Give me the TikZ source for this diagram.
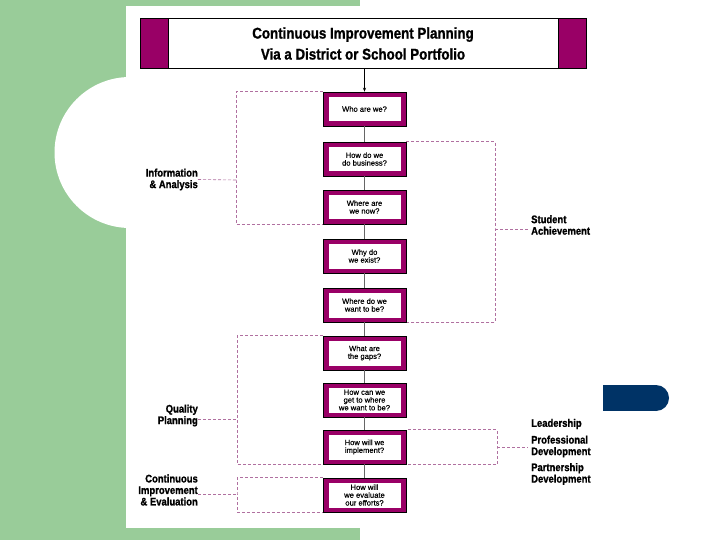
\documentclass[tikz,border=0pt]{standalone}
\usepackage{fontspec}
\setmainfont{Liberation Sans}
\newfontfamily\condfont[FakeStretch=0.86,FakeBold=1.2]{Liberation Sans Bold}
\newfontfamily\qfont[FakeBold=0.4]{Liberation Sans}
\usetikzlibrary{arrows.meta}
\definecolor{bggreen}{HTML}{99CC99}
\definecolor{mag}{HTML}{990066}
\definecolor{dashc}{HTML}{B070A0}
\definecolor{navy}{HTML}{003366}
\begin{document}
\begin{tikzpicture}[x=1pt,y=-1pt,
  qbox/.style={draw=black, line width=0.5pt, fill=mag, minimum width=83pt, minimum height=34pt,
    inner sep=0pt, align=center, font=\qfont\fontsize{7.6}{7.8}\selectfont,
    path picture={\fill[white] ([shift={(5.5pt,-5pt)}]path picture bounding box.north west)
      rectangle ([shift={(-5.5pt,4.5pt)}]path picture bounding box.south east);}},
  lbl/.style={font=\condfont\fontsize{11}{11.5}\selectfont, inner sep=0pt},
  dsh/.style={draw=dashc, line width=0.6pt, dash pattern=on 3pt off 2pt},
  link/.style={draw=black!60, line width=0.8pt}]

\useasboundingbox (0,0) rectangle (720,540);
% background
\fill[bggreen] (0,0) rectangle (360,540);
\fill[white] (126,6) rectangle (720,528);
\fill[white] (360,0) rectangle (720,540);
\fill[white] (130,152.5) circle (75.5pt);

% title
\node[draw=black, line width=0.8pt, fill=white, minimum width=446pt, minimum height=50pt,
  inner sep=0pt, align=center, font=\condfont\fontsize{15.5}{21}\selectfont,
  path picture={
    \fill[mag] (path picture bounding box.north west) rectangle ([xshift=28pt]path picture bounding box.south west);
    \fill[mag] ([xshift=-28pt]path picture bounding box.north east) rectangle (path picture bounding box.south east);
    \draw[black, line width=0.8pt] ([xshift=28pt]path picture bounding box.north west) -- ([xshift=28pt]path picture bounding box.south west);
    \draw[black, line width=0.8pt] ([xshift=-28pt]path picture bounding box.north east) -- ([xshift=-28pt]path picture bounding box.south east);
  }] (title) at (363,43.5) {Continuous Improvement Planning\\Via a District or School Portfolio};

% coordinates for brackets
\coordinate (iaX) at (236,180);
\coordinate (saX) at (495,229);
\coordinate (qpX) at (237,419);
\coordinate (lpX) at (497,447);
\coordinate (ciX) at (237,494);

% boxes (positions)
\path (364.5,109) coordinate (p1) (364.5,159) coordinate (p2) (364.5,207) coordinate (p3)
      (364.5,256) coordinate (p4) (364.5,305) coordinate (p5) (364.5,353) coordinate (p6)
      (364.5,400) coordinate (p7) (364.5,447) coordinate (p8) (364.5,495) coordinate (p9);

% invisible placeholders to get anchors for dashed lines
\node[qbox, draw=none, fill=none, path picture={}] (b1) at (p1) {};
\node[qbox, draw=none, fill=none, path picture={}] (b2) at (p2) {};
\node[qbox, draw=none, fill=none, path picture={}] (b3) at (p3) {};
\node[qbox, draw=none, fill=none, path picture={}] (b5) at (p5) {};
\node[qbox, draw=none, fill=none, path picture={}] (b6) at (p6) {};
\node[qbox, draw=none, fill=none, path picture={}] (b8) at (p8) {};
\node[qbox, draw=none, fill=none, path picture={}] (b9) at (p9) {};

% labels
\node[lbl, anchor=east, align=right] (ia) at (198,179.5) {Information\\\& Analysis};
\node[lbl, anchor=west, align=left] (sa) at (531,225) {Student\\Achievement};
\node[lbl, anchor=east, align=right] (qp) at (198,415.5) {Quality\\Planning};
\node[lbl, anchor=east, align=right] (ci) at (198,490) {Continuous\\Improvement\\\& Evaluation};
\node[lbl, anchor=west, align=left] (ld) at (531,424) {Leadership};
\node[lbl, anchor=west, align=left] (pd) at (531,446.5) {Professional\\Development};
\node[lbl, anchor=west, align=left] (pt) at (531,474) {Partnership\\Development};

% dashed brackets
\draw[dsh] (b1.north west) -| (iaX) |- (b3.south west);
\draw[dsh] (ia.east) -- (iaX);
\draw[dsh] (b2.north east) -| (saX) |- (b5.south east);
\draw[dsh] (saX) -- ([xshift=-1pt]saX -| sa.west);
\draw[dsh] (b6.north west) -| (qpX) |- (lpX |- b8.south) -- (lpX) |- (b8.north east);
\draw[dsh] (qp.east |- qpX) -- (qpX);
\draw[dsh] (lpX) -- ([xshift=-3pt]lpX -| pd.west);
\draw[dsh] (b9.north west) -| (ciX) |- (b9.south west);
\draw[dsh] (ci.east |- ciX) -- (ciX);

% question boxes
\node[qbox] (q1) at (p1) {Who are we?};
\node[qbox] (q2) at (p2) {How do we\\do business?};
\node[qbox] (q3) at (p3) {Where are\\we now?};
\node[qbox] (q4) at (p4) {Why do\\we exist?};
\node[qbox] (q5) at (p5) {Where do we\\want to be?};
\node[qbox] (q6) at (p6) {What are\\the gaps?};
\node[qbox] (q7) at (p7) {How can we\\get to where\\we want to be?};
\node[qbox] (q8) at (p8) {How will we\\implement?};
\node[qbox] (q9) at (p9) {How will\\we evaluate\\our efforts?};

% links
\draw[-{Stealth[length=4pt,width=3pt]}, line width=0.6pt] (title.south -| q1.north) -- (q1.north);
\draw[link] (q1) -- (q2);
\draw[link] (q2) -- (q3);
\draw[link] (q3) -- (q4);
\draw[link] (q4) -- (q5);
\draw[link] (q5) -- (q6);
\draw[link] (q6) -- (q7);
\draw[link] (q7) -- (q8);
\draw[link] (q8) -- (q9);

% navy tab
\fill[navy] (603,385) rectangle (656,411);
\fill[navy] (656,398) circle (13pt);
\end{tikzpicture}
\end{document}
